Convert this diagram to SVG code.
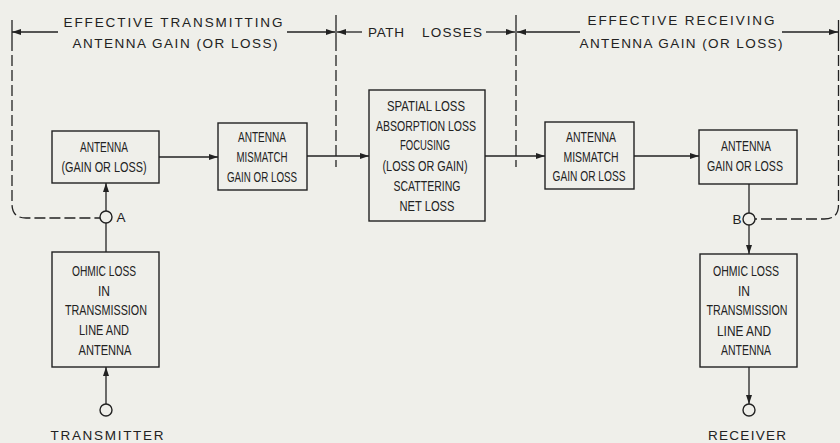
<svg xmlns="http://www.w3.org/2000/svg" width="840" height="443" viewBox="0 0 840 443">
<style>
.bg{fill:#efefea}
.box{fill:none;stroke:#222;stroke-width:1.4}
.ln{fill:none;stroke:#222;stroke-width:1.3}
.dash{fill:none;stroke:#222;stroke-width:1.3;stroke-dasharray:11 4}
.pt{fill:#efefea;stroke:#222;stroke-width:1.4}
.bt{font-family:"Liberation Sans",Arial,sans-serif;font-size:15px;fill:#222;text-anchor:middle}
.lt{font-family:"Liberation Sans",Arial,sans-serif;font-size:13.5px;fill:#222;text-anchor:middle}
</style>
<defs>
<marker id="ah" markerUnits="userSpaceOnUse" markerWidth="10" markerHeight="7" refX="9" refY="3" orient="auto">
<path d="M0,0 L9,3 L0,6 z" fill="#222"/>
</marker>
</defs>
<rect class="bg" x="0" y="0" width="840" height="443"/>

<g id="labels-top">
<text class="lt" x="173" y="27" textLength="219" lengthAdjust="spacing">EFFECTIVE TRANSMITTING</text>
<text class="lt" x="175" y="48" textLength="205" lengthAdjust="spacing">ANTENNA GAIN (OR LOSS)</text>
<text class="lt" x="386" y="37" textLength="36" lengthAdjust="spacing">PATH</text>
<text class="lt" x="452" y="37" textLength="60" lengthAdjust="spacing">LOSSES</text>
<text class="lt" x="681" y="25" textLength="187" lengthAdjust="spacing">EFFECTIVE RECEIVING</text>
<text class="lt" x="681" y="48" textLength="203" lengthAdjust="spacing">ANTENNA GAIN (OR LOSS)</text>
</g>

<g id="connectors">
<line class="ln" x1="58" y1="32" x2="12" y2="32" marker-end="url(#ah)"/>
<line class="ln" x1="287" y1="32" x2="335" y2="32" marker-end="url(#ah)"/>
<line class="ln" x1="362" y1="32" x2="337" y2="32" marker-end="url(#ah)"/>
<line class="ln" x1="486" y1="32" x2="515" y2="32" marker-end="url(#ah)"/>
<line class="ln" x1="580" y1="32" x2="517" y2="32" marker-end="url(#ah)"/>
<line class="ln" x1="782" y1="32" x2="838" y2="32" marker-end="url(#ah)"/>
<line class="ln" x1="12" y1="20" x2="12" y2="40"/>
<line class="ln" x1="336" y1="15" x2="336" y2="40"/>
<line class="ln" x1="516" y1="15" x2="516" y2="40"/>
<line class="ln" x1="838.5" y1="20" x2="838.5" y2="40"/>
<path class="dash" d="M12,40 V204 Q12,218 26,218 H100"/>
<path class="dash" d="M838.5,40 V205 Q838.5,219 824,219 H755"/>
<path class="dash" d="M336,40 V167"/>
<path class="dash" d="M516,40 V167"/>
<line class="ln" x1="106" y1="211" x2="106" y2="183" marker-end="url(#ah)"/>
<line class="ln" x1="106" y1="252" x2="106" y2="223"/>
<line class="ln" x1="106" y1="404" x2="106" y2="367" marker-end="url(#ah)"/>
<line class="ln" x1="159" y1="157" x2="218" y2="157" marker-end="url(#ah)"/>
<line class="ln" x1="307" y1="156" x2="369" y2="156" marker-end="url(#ah)"/>
<line class="ln" x1="485" y1="156" x2="545" y2="156" marker-end="url(#ah)"/>
<line class="ln" x1="634" y1="156" x2="699" y2="156" marker-end="url(#ah)"/>
<line class="ln" x1="749" y1="184" x2="749" y2="213"/>
<line class="ln" x1="749" y1="225" x2="749" y2="254" marker-end="url(#ah)"/>
<line class="ln" x1="749" y1="367" x2="749" y2="404" marker-end="url(#ah)"/>
</g>

<g id="point-a">
<circle class="pt" cx="106" cy="217" r="6"/>
<text class="lt" x="121" y="222">A</text>
</g>
<g id="point-b">
<circle class="pt" cx="749" cy="219" r="6"/>
<text class="lt" x="737" y="224">B</text>
</g>

<g id="antenna-tx">
<rect class="box" x="52" y="131" width="107" height="52"/>
<text class="bt" x="104" y="152" textLength="48" lengthAdjust="spacingAndGlyphs">ANTENNA</text>
<text class="bt" x="104" y="172" textLength="85" lengthAdjust="spacingAndGlyphs">(GAIN OR LOSS)</text>
</g>

<g id="mismatch-tx">
<rect class="box" x="218" y="123" width="89" height="67"/>
<text class="bt" x="262" y="142" textLength="48" lengthAdjust="spacingAndGlyphs">ANTENNA</text>
<text class="bt" x="262" y="162" textLength="51" lengthAdjust="spacingAndGlyphs">MISMATCH</text>
<text class="bt" x="262" y="182" textLength="70" lengthAdjust="spacingAndGlyphs">GAIN OR LOSS</text>
</g>

<g id="path-losses">
<rect class="box" x="369" y="90" width="116" height="131"/>
<text class="bt" x="426" y="111" textLength="78" lengthAdjust="spacingAndGlyphs">SPATIAL LOSS</text>
<text class="bt" x="426" y="131" textLength="100" lengthAdjust="spacingAndGlyphs">ABSORPTION LOSS</text>
<text class="bt" x="425" y="150" textLength="50" lengthAdjust="spacingAndGlyphs">FOCUSING</text>
<text class="bt" x="425" y="171" textLength="85" lengthAdjust="spacingAndGlyphs">(LOSS OR GAIN)</text>
<text class="bt" x="427" y="191" textLength="67" lengthAdjust="spacingAndGlyphs">SCATTERING</text>
<text class="bt" x="427" y="211" textLength="55" lengthAdjust="spacingAndGlyphs">NET LOSS</text>
</g>

<g id="mismatch-rx">
<rect class="box" x="545" y="122" width="89" height="67"/>
<text class="bt" x="591" y="142" textLength="50" lengthAdjust="spacingAndGlyphs">ANTENNA</text>
<text class="bt" x="591" y="162" textLength="55" lengthAdjust="spacingAndGlyphs">MISMATCH</text>
<text class="bt" x="589" y="181" textLength="73" lengthAdjust="spacingAndGlyphs">GAIN OR LOSS</text>
</g>

<g id="antenna-rx">
<rect class="box" x="699" y="130" width="98" height="54"/>
<text class="bt" x="746" y="151" textLength="50" lengthAdjust="spacingAndGlyphs">ANTENNA</text>
<text class="bt" x="745" y="171" textLength="76" lengthAdjust="spacingAndGlyphs">GAIN OR LOSS</text>
</g>

<g id="ohmic-tx">
<rect class="box" x="52" y="252" width="107" height="115"/>
<text class="bt" x="104" y="276" textLength="64" lengthAdjust="spacingAndGlyphs">OHMIC LOSS</text>
<text class="bt" x="104" y="296" textLength="12" lengthAdjust="spacingAndGlyphs">IN</text>
<text class="bt" x="106" y="315" textLength="82" lengthAdjust="spacingAndGlyphs">TRANSMISSION</text>
<text class="bt" x="104" y="335" textLength="50" lengthAdjust="spacingAndGlyphs">LINE AND</text>
<text class="bt" x="105" y="355" textLength="53" lengthAdjust="spacingAndGlyphs">ANTENNA</text>
</g>

<g id="ohmic-rx">
<rect class="box" x="700" y="254" width="97" height="113"/>
<text class="bt" x="746" y="276" textLength="66" lengthAdjust="spacingAndGlyphs">OHMIC LOSS</text>
<text class="bt" x="744" y="296" textLength="12" lengthAdjust="spacingAndGlyphs">IN</text>
<text class="bt" x="747" y="315" textLength="81" lengthAdjust="spacingAndGlyphs">TRANSMISSION</text>
<text class="bt" x="744" y="336" textLength="54" lengthAdjust="spacingAndGlyphs">LINE AND</text>
<text class="bt" x="746" y="355" textLength="50" lengthAdjust="spacingAndGlyphs">ANTENNA</text>
</g>

<g id="transmitter">
<circle class="pt" cx="106" cy="410" r="6"/>
<text class="lt" x="107" y="440" textLength="113" lengthAdjust="spacing">TRANSMITTER</text>
</g>

<g id="receiver">
<circle class="pt" cx="749" cy="410" r="6"/>
<text class="lt" x="747" y="440" textLength="78" lengthAdjust="spacing">RECEIVER</text>
</g>
</svg>
